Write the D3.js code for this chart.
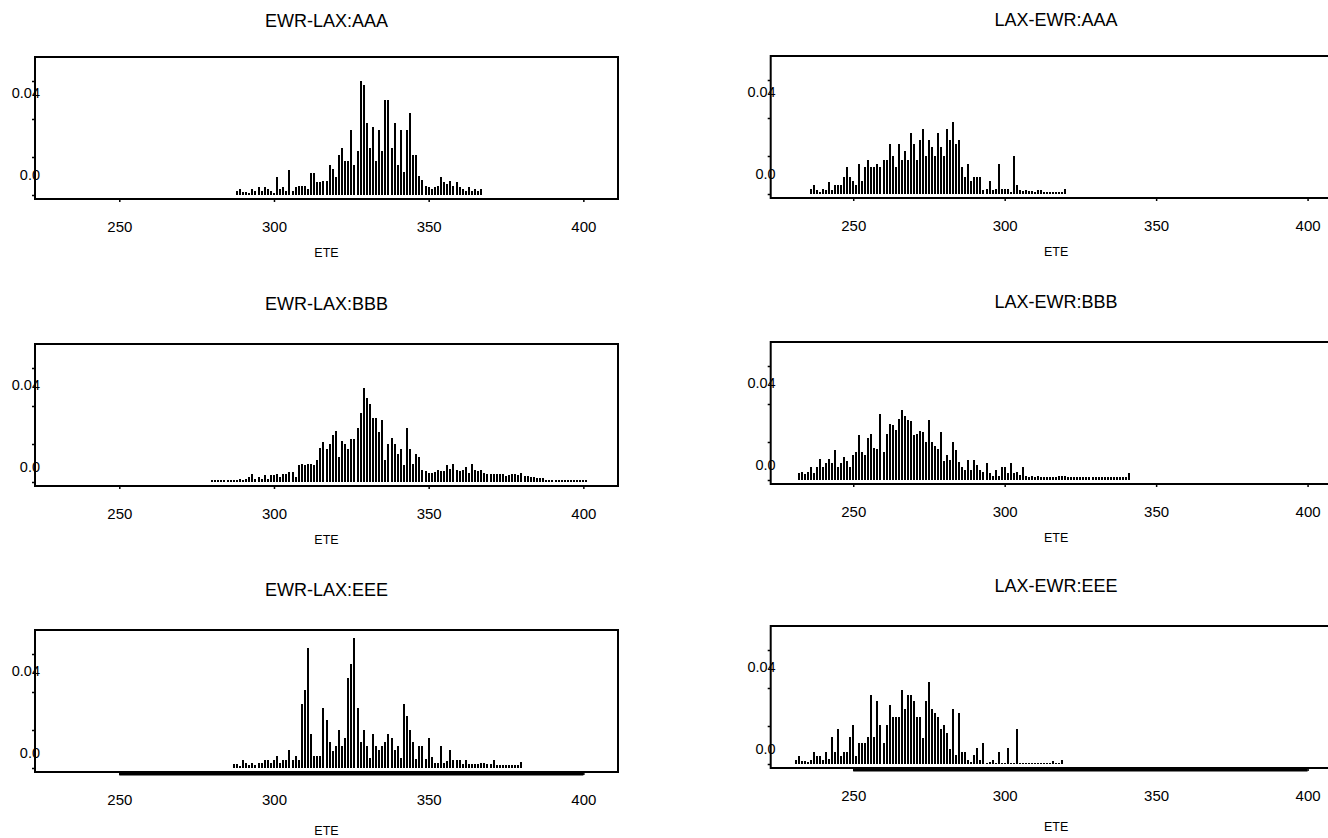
<!DOCTYPE html>
<html><head><meta charset="utf-8">
<script src="https://cdn.jsdelivr.net/npm/d3@7"></script>
<style>
body{margin:0;background:#fff}
svg text{font-family:"Liberation Sans",Arial,sans-serif;fill:#000}
</style>
</head><body>
<svg id="chart" width="1328" height="838"></svg>
<script>
// ---- data (density of ETE, one value per integer minute) ----
const panelTitles = ["EWR-LAX:AAA","LAX-EWR:AAA","EWR-LAX:BBB","LAX-EWR:BBB","EWR-LAX:EEE","LAX-EWR:EEE"];
const xTickValues = [250,300,350,400];
const yTickValues = [0,0.02,0.04,0.06];
const yLabelValues = [0,0.04];
const yLabelText = ["0.0","0.04"];
const xLabel = "ETE";

const ewrLaxAAAStart = 288;
const ewrLaxAAA = [0.002,0.003,0.0015,0.0015,0.001,0.003,0.002,0.004,0.002,0.004,0.003,0.002,0.001,0.0095,0.003,0.004,0.002,0.013,0.002,0.004,0.005,0.005,0.005,0.003,0.0115,0.0115,0.007,0.007,0.0075,0.0075,0.016,0.0138,0.0095,0.021,0.025,0.018,0.018,0.034,0.016,0.023,0.060,0.058,0.038,0.025,0.036,0.018,0.034,0.023,0.050,0.050,0.025,0.038,0.016,0.034,0.012,0.034,0.043,0.021,0.021,0.010,0.008,0.005,0.004,0.003,0.004,0.005,0.0095,0.007,0.006,0.0075,0.005,0.007,0.004,0.003,0.002,0.004,0.002,0.003,0.002,0.003];

const laxEwrAAAStart = 236;
const laxEwrAAA = [0.0024,0.0047,0.002,0.001,0.0024,0.002,0.0065,0.002,0.0047,0.0047,0.0047,0.009,0.0143,0.009,0.0068,0.0047,0.016,0.0068,0.0143,0.018,0.0143,0.0143,0.016,0.0143,0.018,0.018,0.0265,0.020,0.0143,0.0265,0.018,0.0225,0.018,0.032,0.0265,0.018,0.0286,0.034,0.020,0.0286,0.025,0.020,0.032,0.025,0.020,0.034,0.0286,0.038,0.0265,0.0286,0.014,0.009,0.016,0.0068,0.009,0.009,0.009,0.002,0.0024,0.0068,0.002,0.0024,0.016,0.0024,0.0024,0.0024,0.001,0.020,0.0047,0.002,0.0015,0.002,0.0015,0.0015,0.001,0.002,0.002,0.001,0.001,0.0008,0.0008,0.0008,0.0008,0.0008,0.0024];

const ewrLaxBBBStart = 280;
const ewrLaxBBB = [0.0008,0.0008,0.0008,0.0008,0.0008,0.0008,0.0008,0.0008,0.001,0.0015,0.001,0.0015,0.0026,0.0044,0.0015,0.0026,0.0015,0.0035,0.0015,0.0035,0.0035,0.0044,0.0025,0.0044,0.0044,0.0053,0.0053,0.0025,0.0088,0.0096,0.0088,0.0096,0.0096,0.0088,0.0118,0.018,0.021,0.0175,0.020,0.0246,0.0267,0.013,0.0214,0.020,0.0172,0.0225,0.0225,0.0286,0.0363,0.0496,0.0444,0.0412,0.0339,0.0339,0.0263,0.0328,0.0114,0.020,0.0233,0.020,0.0149,0.0172,0.0088,0.0286,0.0172,0.0096,0.0149,0.013,0.0065,0.006,0.005,0.005,0.0053,0.0065,0.006,0.006,0.0088,0.007,0.0096,0.0065,0.006,0.0065,0.008,0.005,0.0096,0.0065,0.006,0.0065,0.0045,0.004,0.004,0.004,0.004,0.004,0.004,0.003,0.0035,0.004,0.004,0.0035,0.005,0.003,0.003,0.0025,0.0025,0.002,0.002,0.002,0.001,0.001,0.001,0.001,0.001,0.001,0.001,0.001,0.0008,0.0008,0.0008,0.0008,0.0008,0.0008];

const laxEwrBBBStart = 232;
const laxEwrBBB = [0.0035,0.0044,0.003,0.0044,0.0066,0.0035,0.0066,0.0108,0.0066,0.009,0.0108,0.0087,0.016,0.0066,0.009,0.0122,0.010,0.0066,0.013,0.0148,0.0235,0.0148,0.013,0.0223,0.0244,0.017,0.0165,0.0348,0.0148,0.0244,0.0296,0.0287,0.0265,0.0322,0.0369,0.0338,0.0317,0.0313,0.0235,0.024,0.0256,0.0252,0.020,0.0317,0.020,0.018,0.0165,0.0252,0.010,0.013,0.0104,0.020,0.016,0.0096,0.007,0.0055,0.0104,0.0055,0.0104,0.0078,0.0055,0.004,0.0087,0.0035,0.002,0.0055,0.002,0.0066,0.0066,0.0035,0.0087,0.0035,0.004,0.0026,0.0066,0.002,0.0015,0.002,0.0015,0.002,0.0015,0.0015,0.0015,0.0015,0.0015,0.0015,0.002,0.002,0.002,0.0015,0.0015,0.0015,0.0015,0.0015,0.0015,0.0015,0.0015,0.0015,0.0015,0.0015,0.0015,0.0015,0.0015,0.0015,0.0015,0.0015,0.0015,0.0015,0.0015,0.0035];

const ewrLaxEEEStart = 287;
const ewrLaxEEE = [0.002,0.0021,0.001,0.0044,0.0025,0.0018,0.0025,0.0018,0.0025,0.0025,0.0044,0.0044,0.0025,0.0044,0.0065,0.0025,0.0044,0.0044,0.0096,0.0044,0.0065,0.0044,0.0337,0.041,0.063,0.018,0.0065,0.0065,0.0065,0.0316,0.0253,0.0135,0.009,0.0118,0.0202,0.0118,0.0158,0.0474,0.055,0.0684,0.0316,0.0135,0.020,0.0118,0.0055,0.018,0.0118,0.0095,0.0118,0.0139,0.018,0.0158,0.0095,0.0118,0.0055,0.0337,0.0275,0.0202,0.0139,0.0048,0.0118,0.0118,0.0048,0.0158,0.0058,0.0025,0.0025,0.0118,0.0025,0.0035,0.0095,0.0042,0.0042,0.0042,0.002,0.0042,0.002,0.002,0.002,0.002,0.0025,0.0025,0.002,0.002,0.0042,0.0018,0.0018,0.0018,0.0018,0.0018,0.0018,0.0018,0.0018,0.003];

const laxEwrEEEStart = 231;
const laxEwrEEE = [0.0022,0.004,0.0015,0.0015,0.001,0.0022,0.0063,0.004,0.004,0.0022,0.0063,0.0027,0.014,0.0063,0.0185,0.004,0.0063,0.0063,0.014,0.0203,0.004,0.0108,0.0108,0.0108,0.014,0.0364,0.014,0.0332,0.0206,0.0108,0.0203,0.031,0.0247,0.0247,0.0247,0.0387,0.029,0.0364,0.0364,0.0333,0.0247,0.0247,0.0138,0.0333,0.043,0.029,0.0269,0.0247,0.0185,0.0203,0.0161,0.008,0.029,0.0045,0.0269,0.0063,0.0063,0.0022,0.001,0.0045,0.0086,0.0022,0.0108,0.0005,0.001,0.0022,0.0005,0.0063,0.0005,0.0005,0.0086,0.0005,0.0005,0.0185,0.0005,0.0005,0.0005,0.0005,0.0005,0.0005,0.0005,0.0005,0.0005,0.0005,0.0005,0.0018,0.0005,0.0005,0.0022];

const seriesValues = [ewrLaxAAA, laxEwrAAA, ewrLaxBBB, laxEwrBBB, ewrLaxEEE, laxEwrEEE];
const seriesStarts = [ewrLaxAAAStart, laxEwrAAAStart, ewrLaxBBBStart, laxEwrBBBStart, ewrLaxEEEStart, laxEwrEEEStart];

// ---- layout ----
const svg = d3.select("#chart");
const font = '"Liberation Sans",Arial,sans-serif';
const xDomain = [222.75, 411.2];
const colLeft = [35, 770.7];
const colWidth = [583, 570.8];
const rowTops = [[57, 344, 630], [56, 342, 626]];
const boxH = 142;
const rowLabelShift = [-5, 0, 0];

panelTitles.forEach((title, i) => {
  const col = i % 2, row = Math.floor(i / 2);
  const left = colLeft[col], top = rowTops[col][row], bottom = top + boxH;
  const x = d3.scaleLinear().domain(xDomain).range([left, left + colWidth[col]]);
  const zero = bottom - 4;
  const y = d3.scaleLinear().domain([0, 0.06]).range([zero, zero - 114]);
  const g = svg.append("g");

  // bars: 2px wide spikes centred on each minute
  const vals = seriesValues[i], start = seriesStarts[i];
  const pts = vals.map((v, k) => ({e: start + k, v}));
  g.selectAll("rect.bar").data(pts).enter().append("rect")
    .attr("class", "bar")
    .attr("x", d => Math.round(x(d.e)) - 1)
    .attr("width", 2)
    .attr("y", d => Math.round(y(d.v)))
    .attr("height", d => Math.max(1, Math.round(y(0)) - Math.round(y(d.v))))
    .attr("fill", "#000")
    .attr("shape-rendering", "crispEdges");

  // box
  g.append("rect").attr("x", left).attr("y", top)
    .attr("width", colWidth[col]).attr("height", boxH)
    .attr("fill", "none").attr("stroke", "#000").attr("stroke-width", 2);

  // x axis ticks
  const xa = d3.axisBottom(x).tickValues(xTickValues).tickSize(3).tickPadding(19).tickFormat(d3.format("d"));
  const xg = g.append("g").attr("transform", `translate(0,${bottom})`).call(xa);
  xg.select(".domain").remove();
  xg.selectAll("line").attr("stroke-width", 1.5);
  xg.selectAll("text").attr("font-size", 15).style("font-family", font);
  if (row === 2) {
    g.append("line").attr("x1", x(250)).attr("x2", x(400))
      .attr("y1", bottom + 1.5).attr("y2", bottom + 1.5)
      .attr("stroke", "#000").attr("stroke-width", 4);
  }

  // y ticks
  const ya = d3.axisLeft(y).tickValues(yTickValues).tickSize(3).tickFormat("");
  const yg = g.append("g").attr("transform", `translate(${left},0)`).call(ya);
  yg.select(".domain").remove();
  yg.selectAll("line").attr("stroke-width", 1.5);
  yLabelValues.forEach((v, k) => {
    g.append("text").attr("x", left + 5).attr("y", y(v) - 14 - v * 140 + rowLabelShift[row])
      .attr("text-anchor", "end").attr("dominant-baseline", "middle")
      .attr("font-size", 14.5).text(yLabelText[k]);
  });

  // title & axis label
  g.append("text").attr("x", left + colWidth[col] / 2).attr("y", top - 35 - (row > 0 ? 4 : 0))
    .attr("text-anchor", "middle").attr("dominant-baseline", "middle")
    .attr("font-size", 18).text(title);
  g.append("text").attr("x", left + colWidth[col] / 2).attr("y", bottom + (row === 2 ? 60 : 55))
    .attr("text-anchor", "middle").attr("dominant-baseline", "middle")
    .attr("font-size", 12.5).text(xLabel);
});
</script>
</body></html>
